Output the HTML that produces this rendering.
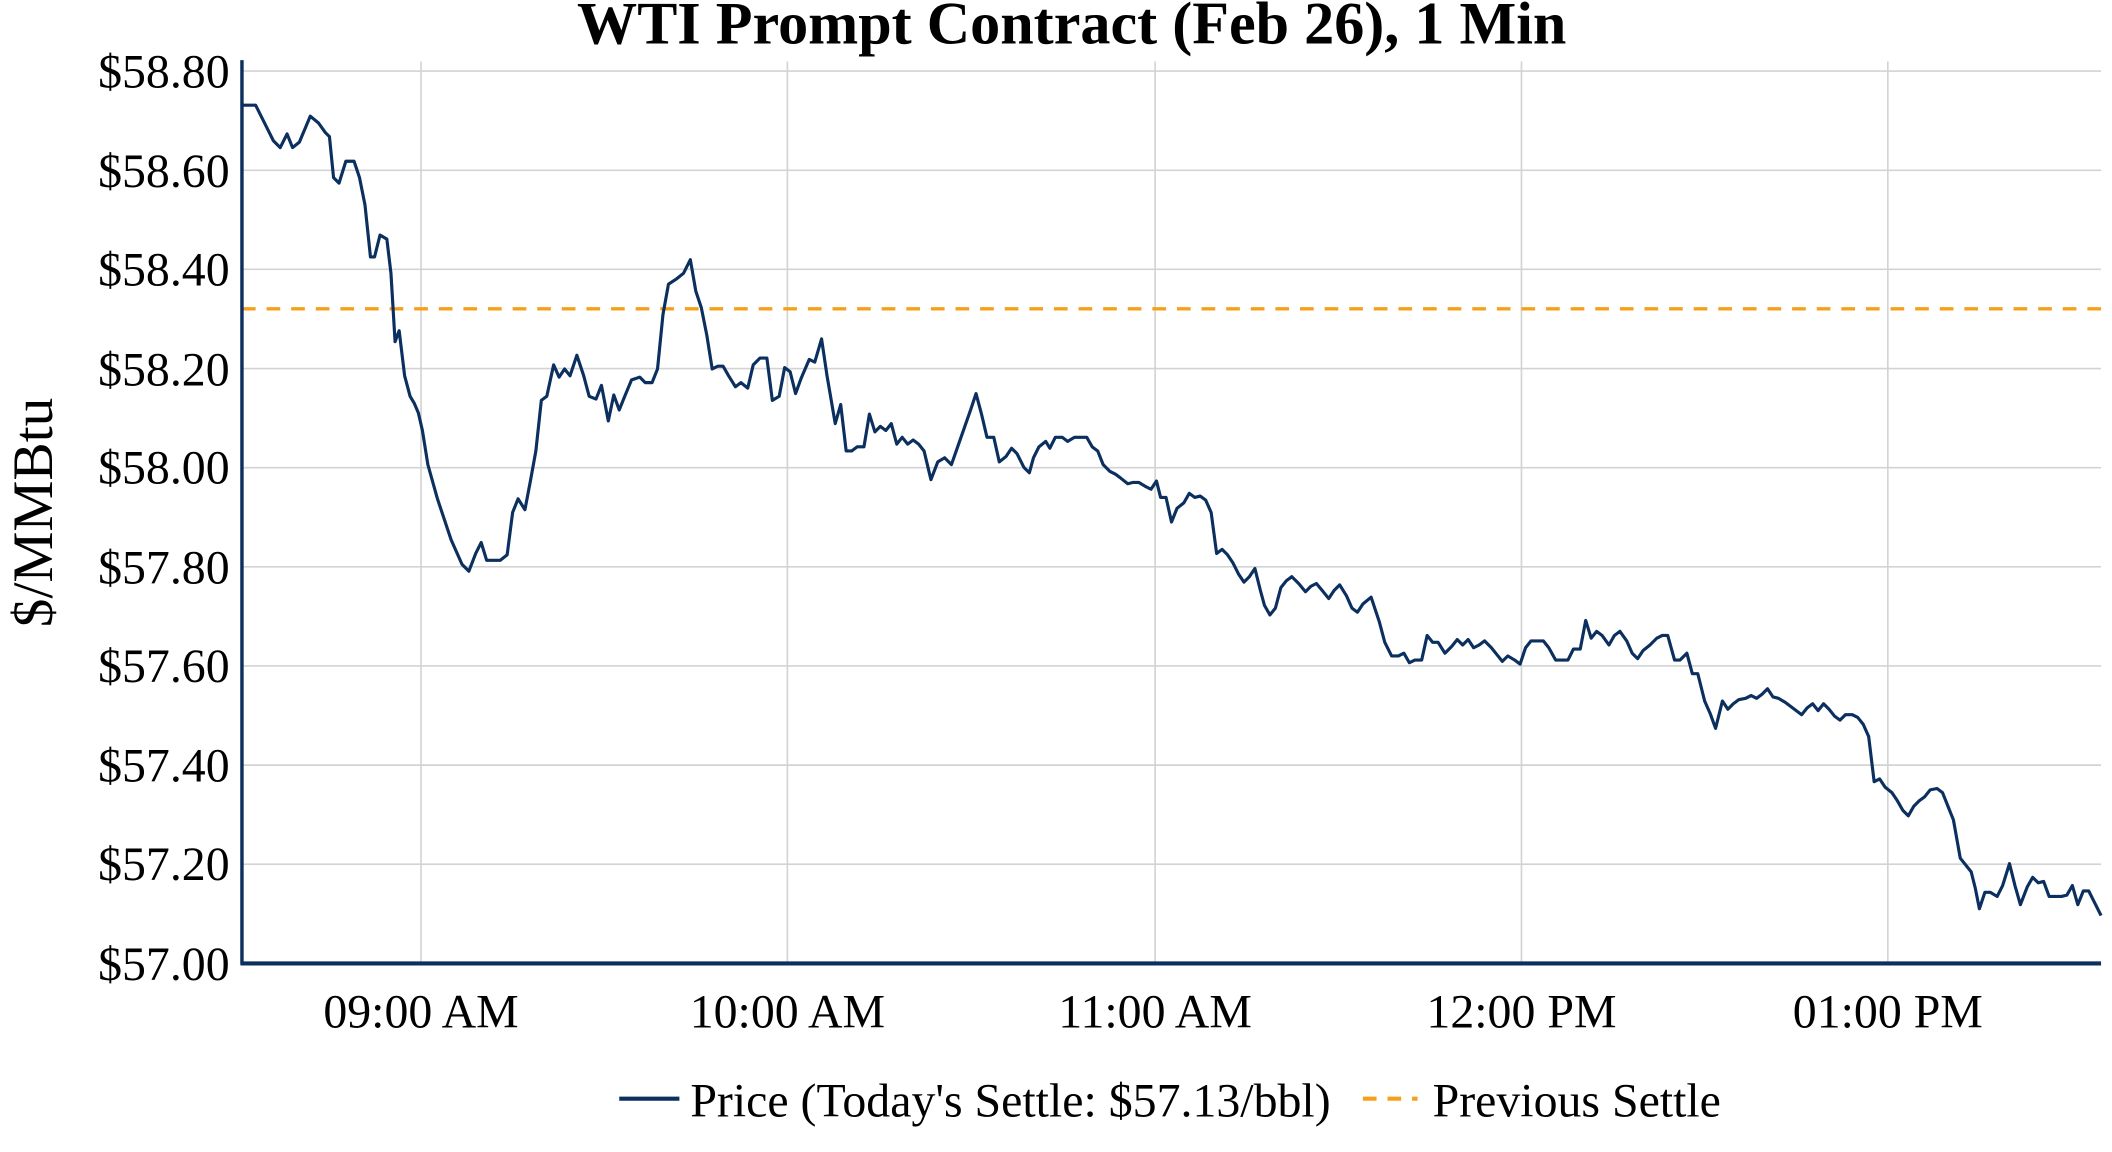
<!DOCTYPE html>
<html><head><meta charset="utf-8"><style>
html,body{margin:0;padding:0;background:#fff;}
svg{display:block;}
text{font-family:"Liberation Serif",serif;fill:#000;}
</style></head><body>
<svg width="2112" height="1152" viewBox="0 0 1545 843" preserveAspectRatio="none" xmlns="http://www.w3.org/2000/svg">
<rect width="1545" height="843" fill="#fff"/>
<g stroke="#d3d3d3" stroke-width="1.2">
<line x1="177" x2="1537" y1="52" y2="52"/><line x1="177" x2="1537" y1="124.6" y2="124.6"/>
<line x1="177" x2="1537" y1="197.1" y2="197.1"/><line x1="177" x2="1537" y1="269.7" y2="269.7"/>
<line x1="177" x2="1537" y1="342.2" y2="342.2"/><line x1="177" x2="1537" y1="414.8" y2="414.8"/>
<line x1="177" x2="1537" y1="487.3" y2="487.3"/><line x1="177" x2="1537" y1="559.9" y2="559.9"/>
<line x1="177" x2="1537" y1="632.4" y2="632.4"/>
<line x1="308" x2="308" y1="45" y2="705"/><line x1="576" x2="576" y1="45" y2="705"/>
<line x1="845" x2="845" y1="45" y2="705"/><line x1="1113" x2="1113" y1="45" y2="705"/>
<line x1="1381" x2="1381" y1="45" y2="705"/>
</g>
<line x1="177" x2="1537" y1="226" y2="226" stroke="#f5a01a" stroke-width="2.5" stroke-dasharray="10,8"/>
<polyline fill="none" stroke="#0b2f5e" stroke-width="2.3" stroke-linejoin="round" points="177,77 187,77 195,93 200,103 205,108 210,98 214,108 219,104 227,85 233,90 238,97 241,100 244,130 248,134 253,118 259,118 263,130 267,150 271,188 274,188 278,172 283,175 286,200 289,250 292,242 296,275 300,290 303,295 306,302 309,315 313,340 320,365 330,395 338,413 343,418 348,405 352,397 356,410 366,410 371,406 375,375 379,365 384,373 388,352 392,330 396,293 400,290 405,267 409,276 413,270 417,275 422,260 427,275 431,290 436,292 440,282 445,308 449,289 453,300 457,290 462,278 468,276 472,280 477,280 481,270 485,230 489,208 495,204 500,200 505,190 509,213 513,225 517,245 521,270 525,268 529,268 533,275 538,283 542,280 547,284 551,267 556,262 561,262 565,293 570,290 574,269 578,272 582,288 586,277 592,263 596,265 601,248 605,275 611,310 615,296 619,330 623,330 627,327 632,327 636,303 640,316 644,312 648,315 652,310 656,325 660,320 664,325 668,322 672,325 676,330 681,351 686,338 691,335 696,340 703,320 710,300 714,288 718,303 722,320 727,320 731,338 736,334 740,328 744,332 749,342 753,346 756,335 760,327 765,323 768,328 772,320 777,320 781,323 786,320 795,320 799,327 803,330 807,340 812,345 816,347 820,350 825,354 829,353 833,353 838,356 842,358 846,352 849,364 853,364 857,382 861,372 866,368 870,361 874,364 878,363 882,366 886,375 890,405 894,402 898,406 902,412 906,420 910,426 914,422 918,416 922,432 925,443 929,450 933,445 937,430 941,425 945,422 950,427 955,433 959,429 963,427 968,433 972,438 976,432 980,428 985,436 989,445 993,448 997,442 1003,437 1009,455 1013,470 1018,480 1023,480 1027,478 1031,485 1035,483 1040,483 1044,465 1048,470 1052,470 1057,478 1062,473 1066,468 1070,472 1074,468 1078,474 1082,472 1086,469 1091,474 1095,479 1099,484 1103,480 1108,483 1112,486 1116,474 1120,469 1124,469 1129,469 1133,474 1138,483 1142,483 1147,483 1151,475 1156,475 1160,454 1164,467 1168,462 1172,465 1177,472 1181,465 1185,462 1190,469 1194,478 1198,482 1202,476 1207,472 1212,467 1216,465 1220,465 1225,483 1229,483 1234,478 1238,493 1242,493 1247,513 1251,522 1255,533 1260,513 1264,519 1268,515 1272,512 1277,511 1281,509 1285,511 1289,508 1293,504 1297,510 1301,511 1306,514 1310,517 1314,520 1318,523 1322,518 1326,515 1330,520 1334,515 1338,519 1342,524 1346,527 1350,523 1355,523 1359,525 1363,530 1367,539 1371,572 1375,570 1379,576 1384,580 1388,586 1392,593 1396,597 1400,590 1404,586 1408,583 1412,578 1417,577 1421,580 1425,590 1429,600 1434,628 1438,633 1442,638 1445,650 1448,665 1452,653 1456,653 1461,656 1465,648 1470,632 1474,648 1478,662 1483,649 1487,642 1491,646 1495,645 1499,656 1504,656 1508,656 1512,655 1516,648 1520,662 1524,652 1528,652 1532,660 1537,670"/>
<line x1="177" x2="177" y1="44" y2="706" stroke="#0b2f5e" stroke-width="2.5"/>
<line x1="176" x2="1537" y1="705" y2="705" stroke="#0b2f5e" stroke-width="3"/>
<g font-size="35" text-anchor="end">
<text x="168" y="64">$58.80</text><text x="168" y="137">$58.60</text><text x="168" y="209">$58.40</text>
<text x="168" y="282">$58.20</text><text x="168" y="354">$58.00</text><text x="168" y="427">$57.80</text>
<text x="168" y="499">$57.60</text><text x="168" y="572">$57.40</text><text x="168" y="644">$57.20</text>
<text x="168" y="717">$57.00</text>
</g>
<g font-size="35" text-anchor="middle">
<text x="308" y="752">09:00 AM</text><text x="576" y="752">10:00 AM</text><text x="845" y="752">11:00 AM</text>
<text x="1113" y="752">12:00 PM</text><text x="1381" y="752">01:00 PM</text>
</g>
<text x="784" y="32" font-size="44" font-weight="bold" text-anchor="middle">WTI Prompt Contract (Feb 26), 1 Min</text>
<text transform="translate(38,375) rotate(-90)" font-size="42" text-anchor="middle">$/MMBtu</text>
<line x1="453" x2="497" y1="804" y2="804" stroke="#0b2f5e" stroke-width="3"/>
<text x="505" y="817" font-size="35">Price (Today's Settle: $57.13/bbl)</text>
<line x1="997" x2="1037" y1="804" y2="804" stroke="#f5a01a" stroke-width="3" stroke-dasharray="10,8"/>
<text x="1048" y="817" font-size="35">Previous Settle</text>
</svg>
</body></html>
